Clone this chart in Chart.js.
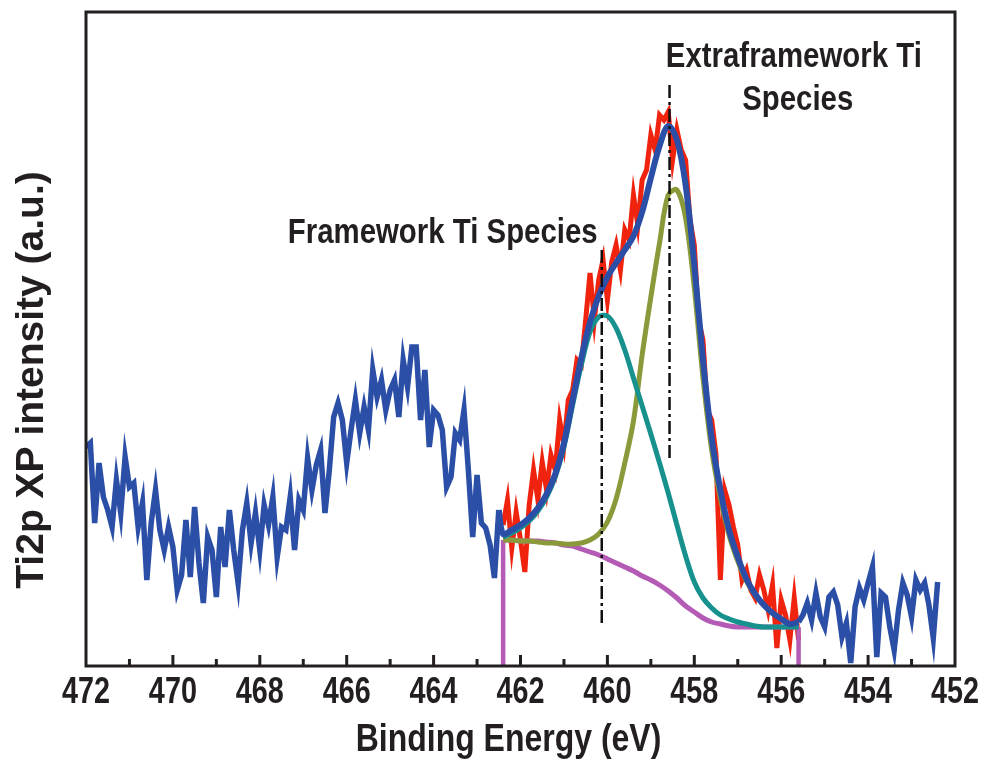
<!DOCTYPE html>
<html>
<head>
<meta charset="utf-8">
<script src="https://cdn.jsdelivr.net/npm/chart.js@4.4.1/dist/chart.umd.min.js"></script>
<style>
  html, body { margin: 0; padding: 0; background: #fff; }
  #wrap { width: 985px; height: 762px; }
</style>
</head>
<body>
<div id="wrap"><canvas id="xps" width="985" height="762"></canvas></div>
<script>
// Ti2p XPS spectrum, intensity in a.u.
const xMin = 452;
const xMax = 472;
const yMax = 654;
const tickLabels = ["472", "470", "468", "466", "464", "462", "460", "458", "456", "454", "452"];

// raw scan, 0.1 eV steps
const rawStep = 0.1;
const rawLeftStart = 472.0; // 472.0 -> 462.5
const rawLeft = [
  219, 223, 143, 203, 169, 156, 139, 186, 153, 209,
  179, 183, 139, 163, 86, 143, 176, 136, 116, 139,
  119, 76, 91, 146, 89, 159, 103, 63, 129, 116,
  69, 139, 99, 156, 116, 83, 136, 163, 123, 153,
  116, 161, 141, 169, 109, 139, 136, 169, 116, 166,
  156, 208, 176, 201, 216, 153, 196, 249, 263, 246,
  203, 236, 266, 233, 259, 236, 296, 269, 286, 256,
  276, 286, 249, 306, 279, 319, 319, 246, 296, 219,
  256, 251, 236, 179, 189, 233, 226, 256, 196, 129,
  191, 143, 138, 121, 88, 156
];
const rawPeakStart = 462.4; // 462.4 -> 455.6, drawn red under the fit
const rawPeak = [
  141, 166, 118, 154, 126, 94, 161, 196, 166, 204,
  176, 211, 196, 246, 221, 266, 276, 306, 301, 346,
  393, 346, 386, 406, 366, 404, 421, 396, 436, 426,
  471, 441, 486, 496, 531, 516, 551, 546, 554, 506,
  536, 516, 506, 446, 421, 346, 326, 256, 246, 211,
  86, 176, 161, 139, 121, 86, 96, 76, 68, 91,
  76, 56, 81, 18, 66, 51, 26, 68, 26
];
const rawRightStart = 455.6; // 455.6 -> 452.4
const rawRight = [
  44, 51, 63, 46, 73, 49, 39, 69, 74, 61,
  29, 43, 3, 59, 78, 66, 83, 99, 9, 73,
  69, 39, 16, 56, 83, 71, 49, 86, 76, 83,
  61, 28, 84
];

// fitted components, 0.2 eV steps from 462.4 to 455.6
const fitStart = 462.4;
const fitStep = 0.2;
const envelope = [
  132, 136, 141, 148, 158, 172, 192, 223, 266, 308,
  344, 370, 389, 403, 416, 430, 454, 488, 520, 540,
  526, 481, 401, 306, 228, 176, 136, 109, 87, 72,
  61, 53, 47, 42, 44
];
const frameworkTi = [
  129, 133, 138, 145, 155, 169, 189, 219, 261, 301,
  334, 349, 350, 338, 316, 288, 260, 232, 203, 173,
  141, 110, 84, 68, 58, 51, 47, 44, 42, 40,
  39, 39, 39, 39, 39
];
const extraTi = [
  126, 126, 125, 125, 124, 123, 123, 122, 122, 123,
  126, 132, 144, 167, 203, 245, 311, 369, 423, 471,
  476, 448, 378, 288, 216, 168, 131, 105, 85, 71,
  61, 53, 47, 42, 40
];
const background = [
  126, 126, 125, 125, 125, 124, 123, 121, 120, 117,
  114, 111, 107, 103, 99, 95, 90, 86, 81, 75,
  68, 60, 54, 48, 44, 42, 40, 39, 39, 39,
  39, 39, 39, 39, 39
];

// dash-dot peak markers
const peakPositions = [460.13, 458.57];
const peakTop = [416, 581];
const peakBottom = [43, 204];

// annotations (centre energy, baseline height)
const noteText = ["Framework Ti Species", "Extraframework Ti", "Species"];
const noteEnergy = [463.79, 455.71, 455.62];
const noteHeight = [423, 599, 556];

const INK = "#231f20";
const SANS = '"Liberation Sans", Arial, sans-serif';

const toPoints = (start, step, values) =>
  values.map((v, i) => ({ x: +(start - i * step).toFixed(2), y: v }));

const leftPts = toPoints(rawLeftStart, rawStep, rawLeft);
const peakPts = toPoints(rawPeakStart, rawStep, rawPeak);
const rightPts = toPoints(rawRightStart, rawStep, rawRight);
const envPts = [leftPts[leftPts.length - 1]].concat(toPoints(fitStart, fitStep, envelope));
const bgPts = toPoints(fitStart, fitStep, background);
const bgEnd = bgPts[bgPts.length - 1];

const line = (data, color, width, extra) =>
  Object.assign({
    data,
    borderColor: color,
    borderWidth: width,
    pointRadius: 0,
    fill: false,
    tension: 0,
  }, extra || {});

const datasets = [
  line([{ x: peakPositions[0], y: peakTop[0] }, { x: peakPositions[0], y: peakBottom[0] }], "#111", 2.5, { borderDash: [13, 4, 3, 4] }),
  line([{ x: peakPositions[1], y: peakTop[1] }, { x: peakPositions[1], y: peakBottom[1] }], "#111", 2.5, { borderDash: [13, 4, 3, 4] }),
  line(envPts, "#2b4fa6", 6, { tension: 0.35 }),
  line(leftPts, "#2b4fa6", 5.5),
  line(rightPts, "#2b4fa6", 5.5),
  line(toPoints(fitStart, fitStep, frameworkTi), "#16918d", 5, { tension: 0.35 }),
  line(toPoints(fitStart, fitStep, extraTi), "#8a9a3b", 5, { tension: 0.35 }),
  line([{ x: fitStart, y: 0 }, bgPts[0]], "#b35bb5", 4.5),
  line([bgEnd, { x: bgEnd.x, y: 0 }], "#b35bb5", 4.5),
  line(bgPts, "#b35bb5", 5, { tension: 0.35 }),
  line(peakPts, "#f0230f", 5),
];

// narrow bold text: Liberation Sans squeezed horizontally
function narrowText(ctx, text, x, y, size, squeeze) {
  ctx.save();
  ctx.translate(x, y);
  ctx.scale(squeeze, 1);
  ctx.font = "bold " + size + "px " + SANS;
  ctx.fillText(text, 0, 0);
  ctx.restore();
}

// frame, inward ticks, axis labels and peak notes
const decor = {
  id: "decor",
  afterDatasetsDraw(chart) {
    const { ctx, chartArea: a, scales: { x, y } } = chart;
    ctx.save();
    ctx.strokeStyle = INK;
    ctx.lineWidth = 3;
    ctx.strokeRect(a.left, a.top, a.right - a.left, a.bottom - a.top);
    for (let v = xMin + 1; v < xMax; v++) {
      const px = x.getPixelForValue(v);
      const len = v % 2 === 0 ? 11 : 7;
      ctx.beginPath();
      ctx.moveTo(px, a.bottom);
      ctx.lineTo(px, a.bottom - len);
      ctx.stroke();
    }
    ctx.fillStyle = INK;
    ctx.textAlign = "center";
    ctx.textBaseline = "alphabetic";
    tickLabels.forEach((t) => {
      narrowText(ctx, t, x.getPixelForValue(Number(t)), a.bottom + 37, 36, 0.8);
    });
    narrowText(ctx, "Binding Energy (eV)", (a.left + a.right) / 2 - 12, a.bottom + 85, 39, 0.82);
    noteText.forEach((t, i) => {
      narrowText(ctx, t, x.getPixelForValue(noteEnergy[i]), y.getPixelForValue(noteHeight[i]), 35, 0.84);
    });
    ctx.translate(43, 380);
    ctx.rotate(-Math.PI / 2);
    ctx.font = "bold 39px " + SANS;
    ctx.fillText("Ti2p XP intensity (a.u.)", 0, 0);
    ctx.restore();
  },
};

new Chart(document.getElementById("xps"), {
  type: "line",
  data: { datasets },
  options: {
    responsive: false,
    animation: false,
    layout: { padding: { top: 12, right: 30, left: 0, bottom: 0 } },
    plugins: { legend: { display: false }, tooltip: { enabled: false } },
    scales: {
      x: {
        type: "linear",
        reverse: true,
        min: xMin,
        max: xMax,
        border: { display: false },
        grid: { display: false, drawTicks: false },
        ticks: { display: false },
        afterFit(scale) { scale.height = 96; },
      },
      y: {
        min: 0,
        max: yMax,
        border: { display: false },
        grid: { display: false, drawTicks: false },
        ticks: { display: false },
        afterFit(scale) { scale.width = 86; },
      },
    },
  },
  plugins: [decor],
});
</script>
</body>
</html>
